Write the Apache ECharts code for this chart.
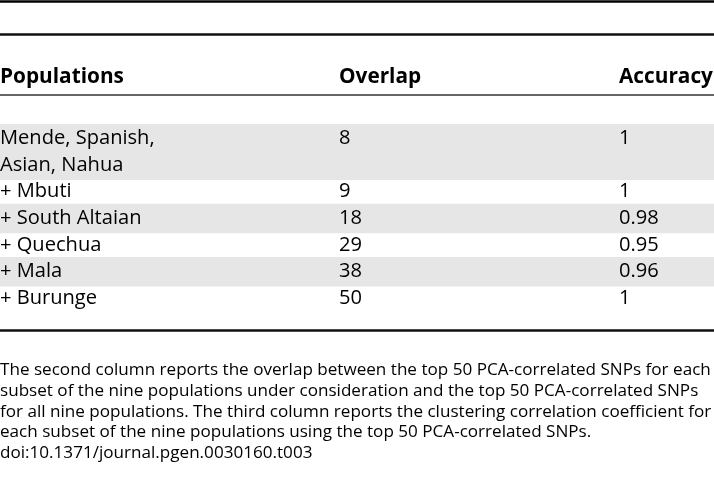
<!DOCTYPE html>
<html><head><meta charset="utf-8">
<script src="https://cdn.jsdelivr.net/npm/echarts@6/dist/echarts.min.js"></script>
<style>html,body{margin:0;padding:0;background:#fff}#c{width:714px;height:478px}</style>
</head><body><div id="c"></div>
<script>
const headers = ['Populations', 'Overlap', 'Accuracy'];
const populations = ['Mende, Spanish,\nAsian, Nahua', '+ Mbuti', '+ South Altaian', '+ Quechua', '+ Mala', '+ Burunge'];
const overlap = [8, 9, 18, 29, 38, 50];
const accuracy = [1, 1, 0.98, 0.95, 0.96, 1];
const captionLines = [
  'The second column reports the overlap between the top 50 PCA-correlated SNPs for each',
  'subset of the nine populations under consideration and the top 50 PCA-correlated SNPs',
  'for all nine populations. The third column reports the clustering correlation coefficient for',
  'each subset of the nine populations using the top 50 PCA-correlated SNPs.',
  'doi:10.1371/journal.pgen.0030160.t003'
];

// layout constants
const FONT = '"Open Sans", "Noto Sans", sans-serif';
const colX = [0, 339, 619];
const headerY = 77;
const firstLineY = 138.5;
const linePitch = 26.6;
const bodySize = 20.1;
const headSize = 20.8;
const capSize = 17.1;
const capTop = 370.5;
const capPitch = 20.6;

const rowLines = populations.map(p => p.split('\n'));
const rowStart = [];
let acc = 0;
rowLines.forEach(l => { rowStart.push(acc); acc += l.length; });

const chart = echarts.init(document.getElementById('c'), null, {renderer: 'canvas'});

function txt(api, x, y, s, size, weight) {
  const p = api.coord([x, y]);
  return {
    type: 'text', x: p[0], y: p[1],
    style: {text: s, fill: '#000', fontSize: size, fontFamily: FONT, fontWeight: weight || 'normal',
            align: 'left', verticalAlign: 'middle'}
  };
}

chart.setOption({
  animation: false,
  backgroundColor: '#fff',
  grid: {left: 0, right: 0, top: 0, bottom: 0},
  xAxis: {type: 'value', min: 0, max: 714, show: false},
  yAxis: {type: 'value', min: 0, max: 478, inverse: true, show: false},
  series: [
    {
      type: 'custom',
      silent: true,
      data: populations.map((p, i) => [i, i]),
      renderItem: function (params, api) {
        const r = params.dataIndex;
        const lines = rowLines[r];
        const first = firstLineY + linePitch * rowStart[r];
        const last = first + linePitch * (lines.length - 1);
        const children = [];
        if (r % 2 === 0) {
          const a = api.coord([0, first - 14.5]);
          const b = api.coord([714, last + 15]);
          children.push({type: 'rect', shape: {x: a[0], y: a[1], width: b[0] - a[0], height: b[1] - a[1]},
                         style: {fill: '#e6e6e6'}});
        }
        lines.forEach((l, k) => children.push(txt(api, colX[0], first + linePitch * k, l, bodySize)));
        children.push(txt(api, colX[1], first, String(overlap[r]), bodySize));
        children.push(txt(api, colX[2], first, String(accuracy[r]), bodySize));
        return {type: 'group', children: children};
      },
      markLine: {
        silent: true, symbol: ['none', 'none'], label: {show: false}, animation: false,
        data: [
          {yAxis: 1.2, lineStyle: {color: '#000', width: 2.5, type: 'solid'}},
          {yAxis: 33.8, lineStyle: {color: '#111', width: 2.5, type: 'solid'}},
          {yAxis: 94.3, lineStyle: {color: '#333', width: 1.6, type: 'solid'}},
          {yAxis: 330.5, lineStyle: {color: '#111', width: 2.5, type: 'solid'}}
        ]
      }
    },
    {
      type: 'custom',
      silent: true,
      data: headers.map((h, i) => [i, i]),
      renderItem: function (params, api) {
        const i = params.dataIndex;
        return txt(api, colX[i], headerY, headers[i], headSize, 'bold');
      }
    },
    {
      type: 'custom',
      silent: true,
      data: captionLines.map((c, i) => [i, i]),
      renderItem: function (params, api) {
        const i = params.dataIndex;
        return txt(api, 0, capTop + capPitch * i, captionLines[i], capSize);
      }
    }
  ]
});
</script>
</body></html>
